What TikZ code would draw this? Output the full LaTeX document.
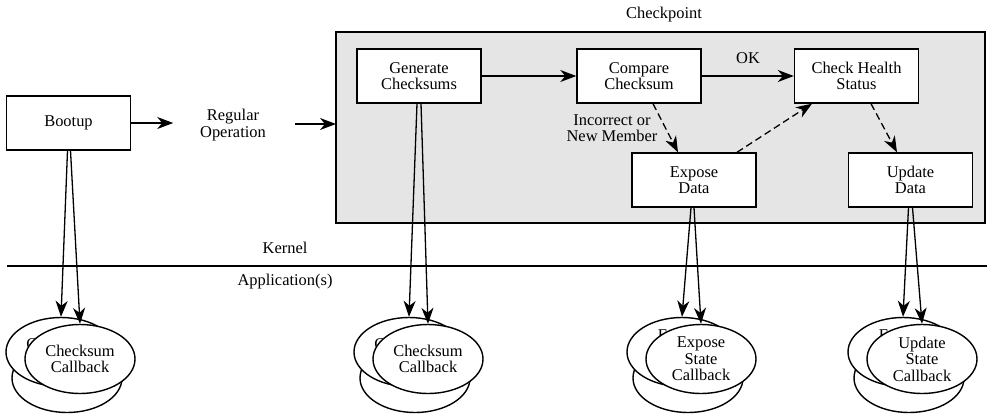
\documentclass[tikz,border=0pt]{standalone}
\usepackage{fontspec}
\setmainfont{Liberation Serif}
\usetikzlibrary{arrows.meta,shapes.geometric}

\tikzset{
  every node/.style={font=\fontsize{16.5}{16.5}\selectfont, align=center},
  procbox/.style={draw, fill=white, line width=1.4bp, minimum width=124bp, minimum height=54bp, inner sep=0pt},
  callback/.style={draw, fill=white, ellipse, line width=1.4bp, minimum width=110bp, minimum height=69bp, inner sep=0pt},
  tip/.style={-{Stealth[length=16bp,width=12bp,inset=5bp]}, line width=1.3bp},
  dashtip/.style={tip, dash pattern=on 7bp off 4bp},
}

\begin{document}
\begin{tikzpicture}[x=1bp, y=-1bp]
    \useasboundingbox (0,0) rectangle (987,413);
    % checkpoint area
    \draw[line width=1.4bp, fill=black!10] (336,32) rectangle (985,223);
    \node (chk) at (664,15) {Checkpoint};

    \node[procbox] (boot) at (68.5,123) {Bootup};
    \node (regop) at (233,125) {Regular\\Operation};
    \coordinate (regin) at (295,124);
    \coordinate (chkin) at (336,124);

    \node[procbox] (gen) at (419,76) {Generate\\Checksums};
    \node[procbox] (cmp) at (639,76) {Compare\\Checksum};
    \node[procbox] (health) at (856.5,76) {Check Health\\Status};
    \node[procbox] (expose) at (694,180) {Expose\\Data};
    \node[procbox] (update) at (910.5,180) {Update\\Data};

    \node (ok) at (748,58) {OK};
    \node (incorrect) at (612,128) {Incorrect or\\New Member};

    \draw[tip] (boot.east) -- ++(42,0);
    \draw[tip] (regin) -- (chkin);
    \draw[tip] (gen) -- (cmp);
    \draw[tip] (cmp) -- (health);
    \draw[dashtip] ([xshift=14bp]cmp.south) -- ([xshift=-16bp]expose.north);
    \draw[dashtip] ([xshift=43bp]expose.north) -- ([xshift=-44.5bp]health.south);
    \draw[dashtip] ([xshift=14.5bp]health.south) -- ([xshift=-13.5bp]update.north);

    % kernel / application boundary
    \coordinate (kl) at (7,266);
    \coordinate (kr) at (987,266);
    \draw[line width=2.8bp] (kl) -- (kr);
    \node (kernel) at (285,248) {Kernel};
    \node (app) at (285,282) {Application(s)};

    % callbacks
    \node[callback] (bootbot) at (67,378) {};
    \node[callback] (bootmid) at (61,352) {Checksum\\Callback};
    \node[callback] (bootcb) at (80,359) {Checksum\\Callback};

    \node[callback] (genbot) at (415,378) {};
    \node[callback] (genmid) at (409,352) {Checksum\\Callback};
    \node[callback] (gencb) at (428,359) {Checksum\\Callback};

    \node[callback] (expbot) at (688,378) {};
    \node[callback] (expmid) at (682,352) {Expose\\State\\Callback};
    \node[callback] (expcb) at (701,359) {Expose\\State\\Callback};

    \node[callback] (updbot) at (909,378) {};
    \node[callback] (updmid) at (903,352) {Expose\\State\\Callback};
    \node[callback] (updcb) at (922,359) {Update\\State\\Callback};

    \draw[tip] ([xshift=-1bp]boot.south) -- (bootmid.north);
    \draw[tip] ([xshift=2bp]boot.south) -- (bootcb.north);
    \draw[tip] ([xshift=-2bp]gen.south) -- (genmid.north);
    \draw[tip] ([xshift=2bp]gen.south) -- (gencb.north);
    \draw[tip] ([xshift=-3bp]expose.south) -- (expmid.north);
    \draw[tip] ([xshift=0bp]expose.south) -- (expcb.north);
    \draw[tip] ([xshift=-2bp]update.south) -- (updmid.north);
    \draw[tip] ([xshift=2bp]update.south) -- (updcb.north);
\end{tikzpicture}
\end{document}
